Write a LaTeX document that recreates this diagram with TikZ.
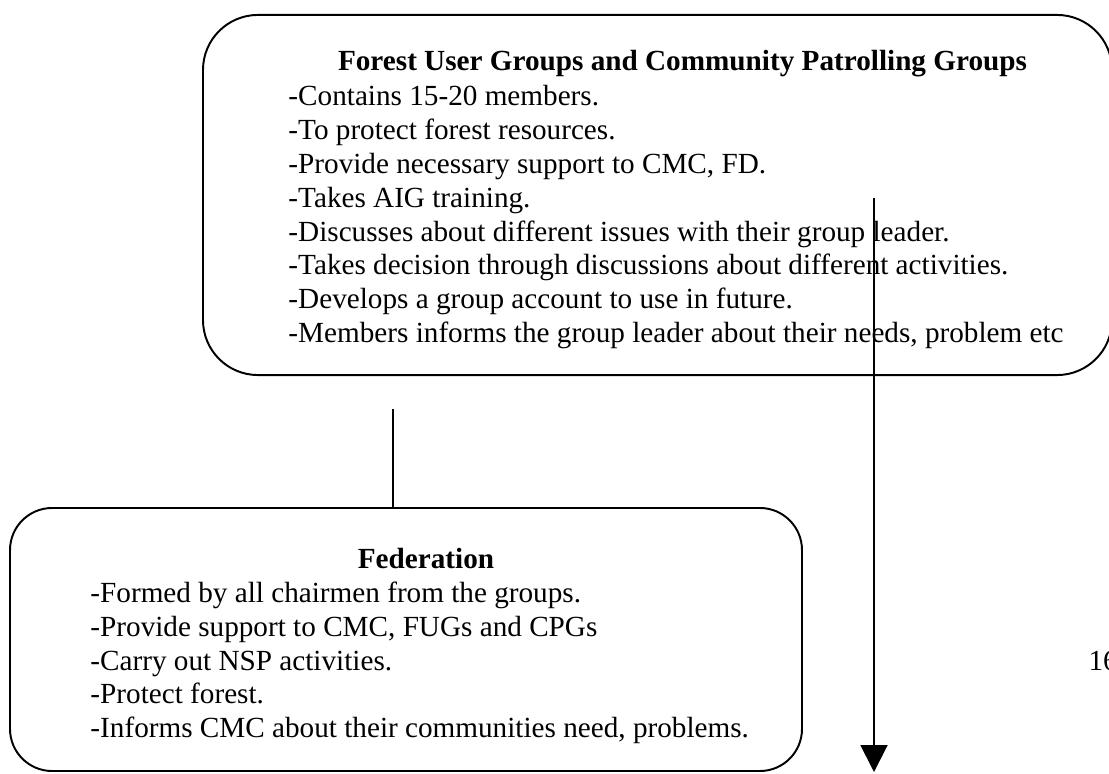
\documentclass[tikz,border=0pt]{standalone}
\usepackage{fontspec}
\setmainfont{Liberation Serif}
\usetikzlibrary{arrows.meta}
\begin{document}
\begin{tikzpicture}[x=0.411pt,y=-0.411pt,
  box/.style={draw, line width=0.8pt, inner sep=0pt},
  conn/.style={draw, line width=0.8pt},
  arr/.style={draw, line width=0.8pt, -{Triangle[width=11pt,length=11pt]}},
  txt/.style={anchor=base west, inner sep=0pt, font=\fontsize{12}{13.8}\selectfont},
  ttl/.style={anchor=base, inner sep=0pt, font=\fontsize{12}{13.8}\selectfont\bfseries},
  ]
\useasboundingbox (0,0) rectangle (1109,774);
% boxes
\node[box, rounded corners=22.6pt, minimum width=373.6pt, minimum height=148pt] (fug) at (657.5,195) {};
\node[box, rounded corners=17.3pt, minimum width=325.5pt, minimum height=108.1pt] (fed) at (406,639.5) {};
% top box text
\node[ttl] (fugt) at (682.5,71) {Forest User Groups and Community Patrolling Groups};
\foreach \t [count=\i] in {
  {-Contains 15-20 members.},
  {-To protect forest resources.},
  {-Provide necessary support to CMC, FD.},
  {-Takes AIG training.},
  {-Discusses about different issues with their group leader.},
  {-Takes decision through discussions about different activities.},
  {-Develops a group account to use in future.},
  {-Members informs the group leader about their needs, problem etc}}
  \node[txt] (fugl\i) at (288,{106+33.8*(\i-1)}) {\t};
% bottom box text
\node[ttl] (fedt) at (426,568.6) {Federation};
\foreach \t [count=\i] in {
  {-Formed by all chairmen from the groups.},
  {-Provide support to CMC, FUGs and CPGs},
  {-Carry out NSP activities.},
  {-Protect forest.},
  {-Informs CMC about their communities need, problems.}}
  \node[txt] (fedl\i) at (90,{602.4+33.8*(\i-1)}) {\t};
% page number (cut off at the right edge, as in the reference)
\node[txt] (pnum) at (1088,670) {16};
% connectors
\coordinate (lt) at (393,409);
\draw[conn] (lt) -- (lt |- fed.north);
\coordinate (as) at (874,198);
\coordinate (ae) at (874,772);
\draw[arr] (as) -- (ae);
\end{tikzpicture}
\end{document}
